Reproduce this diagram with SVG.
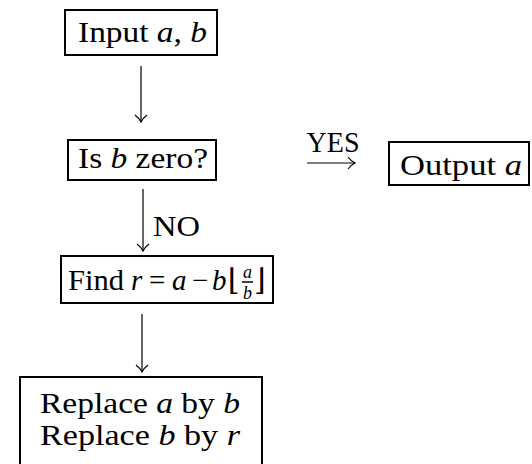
<svg xmlns="http://www.w3.org/2000/svg" width="532" height="464" viewBox="0 0 532 464">
<style>
 .box{fill:#fff;stroke:#000;stroke-width:2}
 .t{font-family:"Liberation Serif","DejaVu Serif",serif;font-size:29px;fill:#000}
 .s{font-family:"Liberation Serif","DejaVu Serif",serif;font-size:18px;fill:#000;font-style:italic}
 .fl{font-family:"DejaVu Serif","Liberation Serif",serif;font-size:30px;fill:#000}
 .i{font-style:italic}
 .c{fill:none;stroke:#000;stroke-width:1.2}
</style>
<rect width="532" height="464" fill="#fff"/>
<g id="connectors">
 <path class="c" d="M141 66 V122"/>
 <path class="c" d="M135 115 Q139 118 141 122 Q143 118 147 115"/>
 <path class="c" d="M143 189 V251"/>
 <path class="c" d="M137 244 Q141 247 143 251 Q145 247 149 244"/>
 <path class="c" d="M142 314 V372"/>
 <path class="c" d="M136 365 Q140 368 142 372 Q144 368 148 365"/>
 <path class="c" d="M307 163 H355"/>
 <path class="c" d="M348 157 Q351 161 355 163 Q351 165 348 169"/>
 <text class="t" x="333" y="152" text-anchor="middle" textLength="53" lengthAdjust="spacingAndGlyphs">YES</text>
 <text class="t" x="153" y="236" textLength="47" lengthAdjust="spacingAndGlyphs">NO</text>
</g>
<g id="input">
 <rect class="box" x="65" y="10" width="152" height="45"/>
 <text class="t" x="78" y="42" textLength="129" lengthAdjust="spacingAndGlyphs">Input <tspan class="i">a</tspan>, <tspan class="i">b</tspan></text>
</g>
<g id="zero">
 <rect class="box" x="68" y="140" width="148" height="40"/>
 <text class="t" x="78" y="168" textLength="130" lengthAdjust="spacingAndGlyphs">Is <tspan class="i">b</tspan> zero?</text>
</g>
<g id="output">
 <rect class="box" x="389" y="142" width="140" height="43"/>
 <text class="t" x="400" y="175" textLength="122" lengthAdjust="spacingAndGlyphs">Output <tspan class="i">a</tspan></text>
</g>
<g id="find">
 <rect class="box" x="61" y="256" width="212" height="47"/>
 <text class="t" x="68" y="290" textLength="56" lengthAdjust="spacingAndGlyphs">Find</text>
 <text class="t i" x="131" y="290">r</text>
 <text class="t" x="149" y="290">=</text>
 <text class="t i" x="172" y="290">a</text>
 <text class="t" x="192" y="290">−</text>
 <text class="t i" x="212" y="290">b</text>
 <text class="fl" x="228" y="290">⌊</text>
 <text class="s" x="247.5" y="278" text-anchor="middle">a</text>
 <line x1="242" y1="282" x2="253" y2="282" stroke="#000" stroke-width="1.5"/>
 <text class="s" x="247.5" y="299" text-anchor="middle">b</text>
 <text class="fl" x="254" y="290">⌋</text>
</g>
<g id="replace">
 <rect class="box" x="20" y="377" width="242" height="95"/>
 <text class="t" x="40" y="413" textLength="200" lengthAdjust="spacingAndGlyphs">Replace <tspan class="i">a</tspan> by <tspan class="i">b</tspan></text>
 <text class="t" x="40" y="445" textLength="200" lengthAdjust="spacingAndGlyphs">Replace <tspan class="i">b</tspan> by <tspan class="i">r</tspan></text>
</g>
</svg>
